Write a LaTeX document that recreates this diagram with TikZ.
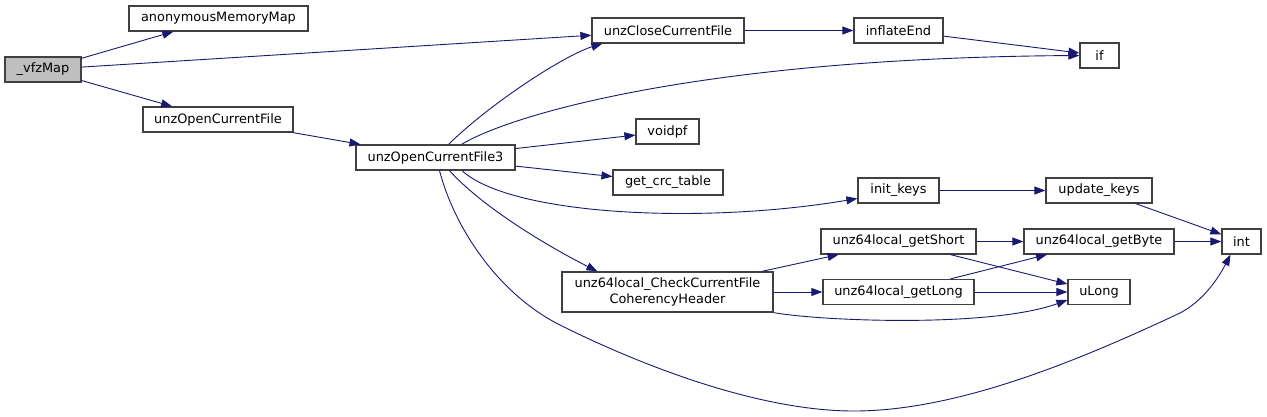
\documentclass[tikz,border=0pt]{standalone}
\usepackage{fontspec}
\setmainfont{DejaVu Sans}
\usetikzlibrary{arrows.meta}
\definecolor{edgec}{RGB}{25,25,112}
\definecolor{boxc}{RGB}{64,64,64}
\definecolor{fillc}{RGB}{191,191,191}
\tikzset{
  fn/.style={draw=boxc, line width=1.2pt, fill=white, rectangle, inner sep=0pt, minimum height=25pt, align=center, font=\fontsize{12.9}{16}\selectfont},
  cur/.style={fn, fill=fillc},
  call/.style={draw=edgec, line width=0.9pt, -{Triangle[length=11pt,width=8pt]}, fill=none},
}
\begin{document}
\begin{tikzpicture}[x=1pt,y=-1pt]
\useasboundingbox (0,0) rectangle (1267,417);
% nodes
\node[cur, minimum width=76pt] (vfz) at (43,69.5) {\_vfzMap};
\node[fn, minimum width=179pt] (amm) at (218.5,18.5) {anonymousMemoryMap};
\node[fn, minimum width=150pt] (uocf) at (218,119.5) {unzOpenCurrentFile};
\node[fn, minimum width=159pt] (uocf3) at (435.5,157.5) {unzOpenCurrentFile3};
\node[fn, minimum width=152pt] (uccf) at (668,30.5) {unzCloseCurrentFile};
\node[fn, minimum width=89pt] (infl) at (898.5,30.5) {inflateEnd};
\node[fn, minimum width=39pt] (if) at (1099.5,55.5) {if};
\node[fn, minimum width=63pt] (voidpf) at (667.5,131.5) {voidpf};
\node[fn, minimum width=110pt] (gct) at (668,182.5) {get\_crc\_table};
\node[fn, minimum width=81pt] (ik) at (898.5,190.5) {init\_keys};
\node[fn, minimum width=106pt] (uk) at (1099,190.5) {update\_keys};
\node[fn, minimum width=155pt] (gs) at (898.5,241.5) {unz64local\_getShort};
\node[fn, minimum width=150pt] (gb) at (1099,241.5) {unz64local\_getByte};
\node[fn, minimum width=39pt] (int) at (1241.5,241.5) {int};
\node[fn, minimum width=211pt, minimum height=40pt] (chk) at (667.5,292) {unz64local\_CheckCurrentFile\\CoherencyHeader};
\node[fn, minimum width=151pt] (gl) at (898.5,292) {unz64local\_getLong};
\node[fn, minimum width=62pt] (ul) at (1099,292) {uLong};
% edges
\draw[call] (vfz) -- (amm);
\draw[call] (vfz) -- (uccf);
\draw[call] (vfz) -- (uocf);
\draw[call] (uocf) -- (uocf3);
\draw[call] ([xshift=13pt]uocf3.north) .. controls (492,102) and (565,55) .. ([xshift=11pt]uccf.south west);
\draw[call] ([xshift=26pt]uocf3.north) .. controls (510,115) and (700,58) .. (if.west);
\draw[call] (uocf3) -- (voidpf);
\draw[call] (uocf3) -- (gct);
\draw[call] ([xshift=26.5pt]uocf3.south) .. controls (510,215) and (700,225) .. ([yshift=-8pt]ik.west);
\draw[call] ([xshift=14pt]uocf3.south) .. controls (485,210) and (555,250) .. ([xshift=36pt]chk.north west);
\draw[call] ([xshift=4pt]uocf3.south) .. controls (455,230) and (500,295) .. (560,325)
  .. controls (640,365) and (760,412) .. (857,411)
  .. controls (960,410) and (1080,360) .. (1180,313)
  .. controls (1205,300) and (1220,275) .. ([xshift=-11pt]int.south);
\draw[call] (uccf) -- (infl);
\draw[call] (infl) -- (if);
\draw[call] (ik) -- (uk);
\draw[call] (uk) -- (int);
\draw[call] (chk) -- (gs);
\draw[call] (chk) -- (gl);
\draw[call] (chk.south east) .. controls (820,321) and (990,328) .. ([yshift=-8pt]ul.west);
\draw[call] (gs) -- (gb);
\draw[call] (gs) -- (ul);
\draw[call] (gl) -- (gb);
\draw[call] (gl) -- (ul);
\draw[call] (gb) -- (int);
\end{tikzpicture}
\end{document}
